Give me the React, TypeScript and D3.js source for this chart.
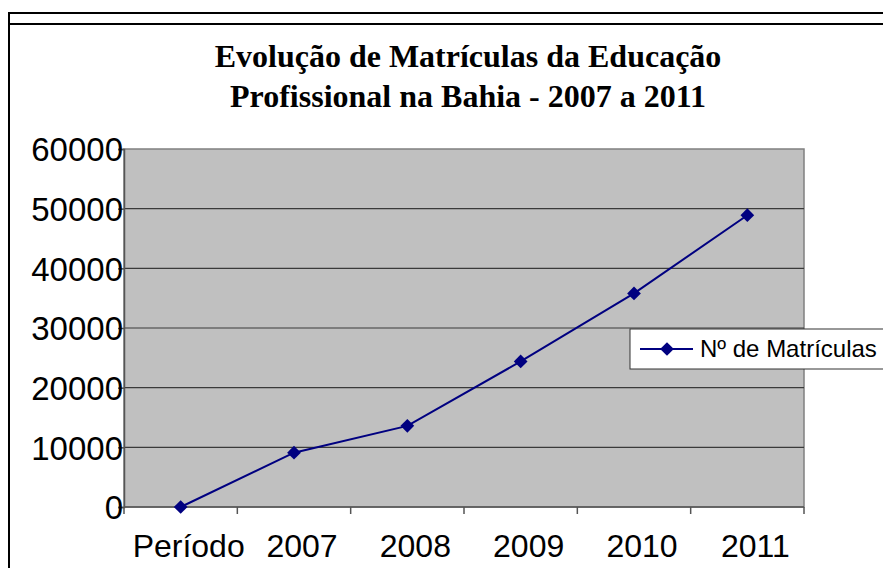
import { useEffect, useRef } from 'react';
import * as d3 from 'd3';

const categories = ['Período', '2007', '2008', '2009', '2010', '2011'];
const matriculas = [0, 9100, 13600, 24400, 35800, 48900];
const yTicks = [0, 10000, 20000, 30000, 40000, 50000, 60000];
const titleLines = ['Evolução de Matrículas da Educação', 'Profissional na Bahia - 2007 a 2011'];
const seriesName = 'Nº de Matrículas';

const App = () => {
    const svgRef = useRef<SVGSVGElement | null>(null);
    const width = 891;
    const height = 576;
    const plot = { left: 124, right: 804, top: 149, bottom: 507 };

    useEffect(() => {
        const svg = d3.select(svgRef.current);
        svg.selectAll('*').remove();

        // outer frame (top double line + left edge)
        svg.append('line').attr('x1', 9).attr('x2', width).attr('y1', 13).attr('y2', 13)
            .attr('stroke', '#000').attr('stroke-width', 2);
        svg.append('line').attr('x1', 9).attr('x2', width).attr('y1', 24).attr('y2', 24)
            .attr('stroke', '#000').attr('stroke-width', 2);
        svg.append('line').attr('x1', 9).attr('x2', 9).attr('y1', 12).attr('y2', height)
            .attr('stroke', '#000').attr('stroke-width', 2);

        const title = svg.append('text')
            .attr('text-anchor', 'middle')
            .attr('font-family', '"Liberation Serif", "Times New Roman", serif')
            .attr('font-weight', 'bold')
            .attr('font-size', 32);
        titleLines.forEach((t, i) => {
            title.append('tspan').attr('x', 468).attr('y', 67 + i * 40).text(t);
        });

        const xScale = d3.scaleBand()
            .domain(categories)
            .range([plot.left, plot.right]);

        const yScale = d3.scaleLinear()
            .domain([0, 60000])
            .range([plot.bottom, plot.top]);

        svg.append('rect')
            .attr('x', plot.left).attr('y', plot.top)
            .attr('width', plot.right - plot.left).attr('height', plot.bottom - plot.top)
            .attr('fill', '#c0c0c0')
            .attr('stroke', '#808080').attr('stroke-width', 1.5);

        svg.append('g').selectAll('line')
            .data(yTicks.filter(d => d > 0 && d < 60000))
            .join('line')
            .attr('x1', plot.left).attr('x2', plot.right)
            .attr('y1', d => yScale(d)).attr('y2', d => yScale(d))
            .attr('stroke', '#3a3a3a').attr('stroke-width', 1.2);

        const yAxis = svg.append('g')
            .attr('transform', `translate(${plot.left},0)`)
            .call(d3.axisLeft(yScale).tickValues(yTicks).tickSize(6).tickPadding(0).tickFormat(d3.format('d')));
        yAxis.select('.domain').attr('stroke', '#555').attr('stroke-width', 1.5);
        yAxis.selectAll('.tick line').attr('stroke', '#555').attr('stroke-width', 1.5);
        yAxis.selectAll('.tick text')
            .attr('font-family', '"Liberation Sans", Arial, sans-serif')
            .attr('font-size', 33).attr('fill', '#000').attr('dy', '0.36em').attr('x', -1);

        const xAxis = svg.append('g')
            .attr('transform', `translate(0,${plot.bottom})`)
            .call(d3.axisBottom(xScale).tickSize(0).tickPadding(0));
        xAxis.select('.domain').remove();
        xAxis.selectAll('.tick text')
            .attr('font-family', '"Liberation Sans", Arial, sans-serif')
            .attr('font-size', 32).attr('fill', '#000')
            .attr('dy', 0).attr('y', 50).attr('dx', 8);

        // category separators below the axis
        const bounds = categories.map(c => xScale(c) as number).concat([plot.right]);
        svg.append('g').selectAll('line')
            .data(bounds)
            .join('line')
            .attr('x1', d => d).attr('x2', d => d)
            .attr('y1', plot.bottom).attr('y2', plot.bottom + 7)
            .attr('stroke', '#555').attr('stroke-width', 1.5);
        svg.append('line')
            .attr('x1', plot.left).attr('x2', plot.right)
            .attr('y1', plot.bottom).attr('y2', plot.bottom)
            .attr('stroke', '#555').attr('stroke-width', 1.5);

        const xc = (c: string) => (xScale(c) as number) + xScale.bandwidth() / 2;
        const line = d3.line<number>()
            .x((d, i) => xc(categories[i]))
            .y(d => yScale(d));

        svg.append('path')
            .datum(matriculas)
            .attr('d', line)
            .attr('fill', 'none')
            .attr('stroke', '#000080')
            .attr('stroke-width', 2);

        const diamond = d3.symbol().type(d3.symbolDiamond2).size(120);
        svg.append('g').selectAll('path')
            .data(matriculas)
            .join('path')
            .attr('d', diamond)
            .attr('transform', (d, i) => `translate(${xc(categories[i])},${yScale(d)})`)
            .attr('fill', '#000080');

        // legend
        const lg = svg.append('g').attr('transform', 'translate(630,329)');
        lg.append('rect').attr('width', 254).attr('height', 40)
            .attr('fill', '#fff').attr('stroke', '#333').attr('stroke-width', 1);
        lg.append('line').attr('x1', 10).attr('x2', 63).attr('y1', 20).attr('y2', 20)
            .attr('stroke', '#000080').attr('stroke-width', 2);
        lg.append('path').attr('d', diamond).attr('transform', 'translate(37,20)').attr('fill', '#000080');
        lg.append('text').attr('x', 70).attr('y', 28)
            .attr('font-family', '"Liberation Sans", Arial, sans-serif')
            .attr('font-size', 24).text(seriesName);
    }, []);

    return (
        <div style={{ margin: -8 }}>
            <svg ref={svgRef} width={width} height={height} style={{ display: 'block', background: '#fff' }}></svg>
        </div>
    );
};

export default App;
